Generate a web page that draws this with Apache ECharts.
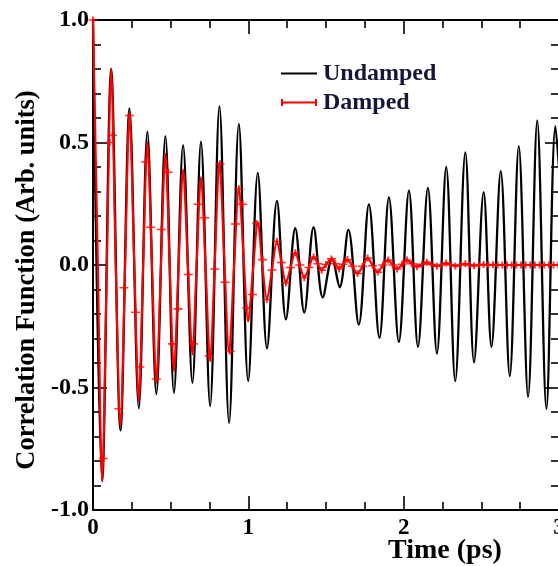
<!DOCTYPE html>
<html>
<head>
<meta charset="utf-8">
<script src="https://cdn.jsdelivr.net/npm/echarts@6/dist/echarts.min.js"></script>
<style>
html,body{margin:0;padding:0;background:#fff;}
#chart{width:558px;height:566px;}
</style>
</head>
<body>
<div id="chart"></div>
<script>
// ---- data ----
var xTicks = [0, 1, 2, 3];
var yTicks = [-1.0, -0.5, 0.0, 0.5, 1.0];
var seriesNames = ['Undamped', 'Damped'];

// Undamped: extrema of the oscillation (time in ps, value)
var undampedTime = [0.000, 0.059, 0.117, 0.177, 0.235, 0.295, 0.350, 0.408, 0.466, 0.521,
  0.580, 0.640, 0.695, 0.754, 0.814, 0.876, 0.939, 0.999, 1.061, 1.120,
  1.184, 1.242, 1.302, 1.360, 1.420, 1.479, 1.539, 1.588, 1.644, 1.711,
  1.776, 1.844, 1.905, 1.969, 2.034, 2.092, 2.156, 2.214, 2.274, 2.332,
  2.397, 2.453, 2.515, 2.565, 2.625, 2.683, 2.741, 2.801, 2.860, 2.919,
  2.977, 3.010];
var undampedValue = [1.00, -0.882, 0.80, -0.675, 0.639, -0.585, 0.544, -0.527, 0.526, -0.522,
  0.489, -0.481, 0.503, -0.576, 0.648, -0.644, 0.576, -0.474, 0.376, -0.340,
  0.262, -0.222, 0.150, -0.194, 0.155, -0.132, 0.027, -0.091, 0.143, -0.243,
  0.247, -0.297, 0.276, -0.314, 0.303, -0.334, 0.315, -0.361, 0.400, -0.474,
  0.460, -0.397, 0.297, -0.334, 0.383, -0.454, 0.485, -0.538, 0.590, -0.587,
  0.567, 0.30];

// Damped curve: extrema and crossings (time in ps, value)
var dampedTime = [0.000, 0.030, 0.059, 0.088, 0.117, 0.147, 0.177, 0.206, 0.235, 0.265,
  0.295, 0.322, 0.350, 0.379, 0.408, 0.437, 0.466, 0.493, 0.521, 0.550,
  0.580, 0.610, 0.640, 0.667, 0.695, 0.725, 0.754, 0.784, 0.814, 0.845,
  0.876, 0.907, 0.939, 0.969, 0.999, 1.030, 1.061, 1.090, 1.120, 1.152,
  1.184, 1.213, 1.242, 1.272, 1.302, 1.331, 1.360, 1.390, 1.420, 1.448,
  1.472, 1.500, 1.535, 1.560, 1.584, 1.610, 1.638, 1.670, 1.703, 1.735,
  1.768, 1.800, 1.833, 1.866, 1.900, 1.930, 1.958, 1.990, 2.021, 2.052,
  2.085, 2.118, 2.150, 2.180, 2.214, 2.244, 2.274, 2.303, 2.332, 2.365,
  2.397, 2.425, 2.453, 2.485, 2.515, 2.545, 2.575, 2.605, 2.635, 2.665,
  2.695, 2.725, 2.755, 2.785, 2.815, 2.845, 2.875, 2.905, 2.935, 2.965, 2.995];
var dampedValue = [1.00, 0.05, -0.882, -0.04, 0.80, -0.03, -0.66, -0.02, 0.62, 0.02,
  -0.556, -0.02, 0.50, 0.01, -0.481, -0.01, 0.454, 0.01, -0.433, -0.02,
  0.39, 0.01, -0.365, 0.00, 0.358, -0.01, -0.393, 0.01, 0.42, 0.03,
  -0.358, -0.02, 0.315, 0.04, -0.23, -0.02, 0.175, 0.00, -0.141, -0.02,
  0.097, 0.01, -0.073, -0.01, 0.05, 0.00, -0.052, -0.01, 0.033, 0.005,
  -0.021, 0.002, 0.025, 0.005, -0.016, 0.003, 0.022, -0.005, -0.035, -0.005,
  0.029, -0.003, -0.029, 0.00, 0.02, 0.00, -0.016, 0.003, 0.02, 0.005,
  -0.007, 0.003, 0.011, 0.002, -0.005, 0.00, 0.008, 0.001, -0.004, 0.00,
  0.005, 0.00, -0.003, 0.00, 0.002, 0.00, 0.001, 0.00, 0.00, 0.00,
  0.00, 0.00, 0.00, 0.00, 0.00, 0.00, 0.00, 0.00, 0.00, 0.00, 0.00];

// Damped "+" sample markers read in the early part (time in ps, value)
var dampedMarkTime = [0.000, 0.066, 0.108, 0.125, 0.166, 0.199, 0.235, 0.274, 0.302, 0.339,
  0.371, 0.408, 0.440, 0.483, 0.512, 0.547, 0.614, 0.646, 0.676, 0.719,
  0.748, 0.784, 0.818, 0.850, 0.883, 0.917, 0.939, 0.963, 0.990, 1.027,
  1.053, 1.092, 1.119];
var dampedMarkValue = [1.00, -0.79, 0.50, 0.53, -0.587, -0.093, 0.61, -0.193, -0.416, 0.42,
  0.154, -0.465, 0.145, 0.379, -0.322, -0.179, -0.039, -0.322, 0.248, 0.193,
  -0.372, -0.016, 0.413, -0.07, -0.352, 0.167, 0.311, 0.248, -0.175, -0.12,
  0.169, 0.022, -0.141];
var markFromCurveAfter = 1.14;

// ---- build chart ----
function pairs(xs, ys) {
  var out = [];
  for (var i = 0; i < xs.length; i++) out.push([xs[i], ys[i]]);
  return out;
}
var markerData = pairs(dampedMarkTime, dampedMarkValue);
for (var k = 0; k < dampedTime.length; k++) {
  if (dampedTime[k] > markFromCurveAfter) markerData.push([dampedTime[k], dampedValue[k]]);
}

var serif = "'Liberation Serif', 'DejaVu Serif', serif";
var plusPath = 'path://M0,3.9H10V6.1H0Z M3.9,0H6.1V10H3.9Z';

var chart = echarts.init(document.getElementById('chart'), null, {renderer: 'canvas'});

var axisCommon = {
  axisLine: {show: true, onZero: false, lineStyle: {color: '#000', width: 2}},
  axisTick: {show: true, inside: true, length: 14, lineStyle: {color: '#000', width: 1.6}},
  minorTick: {show: true, length: 8, lineStyle: {color: '#000', width: 1.6}},
  splitLine: {show: false}
};

var option = {
  animation: false,
  backgroundColor: '#fff',
  grid: {left: 93, right: -1, top: 20, bottom: 56, containLabel: false, outerBoundsMode: 'none'},
  xAxis: [
    Object.assign({}, axisCommon, {
      type: 'value', position: 'bottom', min: xTicks[0], max: xTicks[xTicks.length - 1], interval: 1,
      minorTick: Object.assign({}, axisCommon.minorTick, {splitNumber: 4}),
      axisLabel: {show: true, margin: 7, color: '#000', fontFamily: serif, fontWeight: 'bold', fontSize: 23,
        formatter: function (v) { return String(v); }}
    }),
    Object.assign({}, axisCommon, {
      type: 'value', position: 'top', min: xTicks[0], max: xTicks[xTicks.length - 1], interval: 1,
      minorTick: Object.assign({}, axisCommon.minorTick, {splitNumber: 4}),
      axisLabel: {show: false}
    })
  ],
  yAxis: [
    Object.assign({}, axisCommon, {
      type: 'value', position: 'left', min: yTicks[0], max: yTicks[yTicks.length - 1], interval: 0.5,
      minorTick: Object.assign({}, axisCommon.minorTick, {splitNumber: 5}),
      axisLabel: {show: true, margin: 4, color: '#000', fontFamily: serif, fontWeight: 'bold', fontSize: 24,
        formatter: function (v) { return v.toFixed(1); }}
    }),
    Object.assign({}, axisCommon, {
      type: 'value', position: 'right', min: yTicks[0], max: yTicks[yTicks.length - 1], interval: 0.5,
      minorTick: Object.assign({}, axisCommon.minorTick, {splitNumber: 5}),
      axisLabel: {show: false}
    })
  ],
  legend: {
    show: true,
    orient: 'vertical',
    left: 276, top: 56,
    itemWidth: 36, itemHeight: 10, itemGap: 4,
    textStyle: {color: '#16163a', fontFamily: serif, fontWeight: 'bold', fontSize: 24, lineHeight: 25, padding: [0, 0, 0, 1]},
    data: [
      {name: seriesNames[0], icon: 'path://M0,4.1H36V5.9H0Z M0,0L0.01,0L0,0.01Z M0,10L0.01,10L0,9.99Z'},
      {name: seriesNames[1], icon: 'path://M0,4H36V6H0Z M0,1.5H2V8.5H0Z M34,1.5H36V8.5H34Z'}
    ]
  },
  graphic: [
    {type: 'text', x: 27, y: 280, rotation: Math.PI / 2,
      style: {text: 'Correlation Function (Arb. units)', fill: '#000', font: 'bold 26.5px ' + serif,
        textAlign: 'center', textVerticalAlign: 'middle', align: 'center', verticalAlign: 'middle'}},
    {type: 'text', x: 445, y: 551,
      style: {text: 'Time (ps)', fill: '#000', font: 'bold 28px ' + serif,
        textAlign: 'center', textVerticalAlign: 'middle', align: 'center', verticalAlign: 'middle'}}
  ],
  series: [
    {
      name: seriesNames[0], type: 'line', xAxisIndex: 0, yAxisIndex: 0,
      data: pairs(undampedTime, undampedValue),
      smooth: 0.35, showSymbol: false, symbol: 'none',
      itemStyle: {color: '#000'},
      lineStyle: {color: '#000', width: 2.3},
      z: 2
    },
    {
      name: seriesNames[1], type: 'line', xAxisIndex: 0, yAxisIndex: 0,
      data: pairs(dampedTime, dampedValue),
      smooth: 0.3, showSymbol: false, symbol: 'none',
      itemStyle: {color: '#ff0000'},
      lineStyle: {color: '#ff0000', width: 2.1},
      z: 3
    },
    {
      name: seriesNames[1], type: 'scatter', xAxisIndex: 0, yAxisIndex: 0,
      data: markerData,
      symbol: plusPath, symbolSize: [9, 7],
      itemStyle: {color: '#ff0000'},
      z: 4
    }
  ]
};
chart.setOption(option);
</script>
</body>
</html>
